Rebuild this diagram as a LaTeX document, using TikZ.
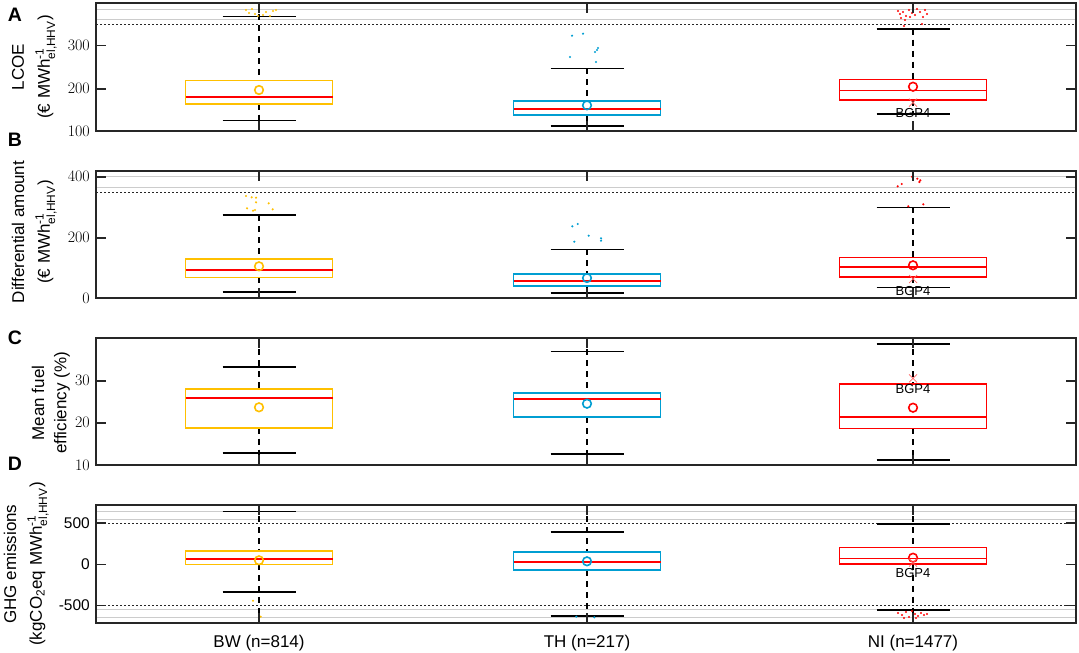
\documentclass[tikz,border=0pt]{standalone}
\usepackage{amsmath}
\usepackage{fontspec}
\newfontfamily\arial{Liberation Sans}
\definecolor{bwcol}{RGB}{255,192,0}
\definecolor{thcol}{RGB}{0,158,210}
\definecolor{nicol}{RGB}{255,0,0}
\definecolor{framecol}{RGB}{38,38,38}

% one box: x, colour, whisker top, cap top, box top, median, box bottom, cap bottom, whisker bottom
\newcommand{\bplot}[9]{%
  \draw[whisk] (#1,#3) -- (#1,#5);
  \draw[whisk] (#1,#7) -- (#1,#9);
  \draw[capline] (#1-36.5,#4) -- (#1+36.5,#4);
  \draw[capline] (#1-36.5,#8) -- (#1+36.5,#8);
  \draw[boxline=#2] (#1-73.5,#5) rectangle (#1+73.5,#7);
  \draw[medline] (#1-73.5,#6) -- (#1+73.5,#6);
}
% axes frame with the x ticks: top, bottom
\newcommand{\pframe}[2]{%
  \draw[frame] (96,#1) rectangle (1076,#2);
  \foreach \x in {259,587,913} {
    \draw[frame] (\x,#1) -- ++(0,10);
    \draw[frame] (\x,#2) -- ++(0,-10);
  }
}

\begin{document}
\begin{tikzpicture}[x=1pt,y=-1pt,
    frame/.style={draw=framecol,line width=1.6pt},
    whisk/.style={black,line width=1.6pt,dash pattern=on 6pt off 5pt},
    capline/.style={black,line width=1.6pt},
    boxline/.style={draw=#1,fill=white,line width=1.6pt},
    medline/.style={nicol,line width=1.6pt},
    meanmark/.style={draw=#1,line width=1.6pt},
    gridline/.style={black!20,line width=1pt},
    limline/.style={black!85,line width=0.7pt,dash pattern=on 2pt off 2pt},
    ticklab/.style={font=\fontsize{16}{16}\selectfont,anchor=east,inner sep=0pt},
    sticklab/.style={font=\arial\fontsize{15.5}{15.5}\selectfont,anchor=east,inner sep=0pt},
    ytitle/.style={font=\arial\fontsize{17}{17}\selectfont,rotate=90,inner sep=0pt},
    xtitle/.style={font=\arial\fontsize{17}{17}\selectfont,inner sep=0pt},
    letter/.style={font=\arial\bfseries\fontsize{19.5}{19.5}\selectfont,inner sep=0pt},
    bgp/.style={font=\arial\fontsize{13}{13}\selectfont,inner sep=0pt},
    xmark/.style={nicol!60,line width=0.7pt}]
  \useasboundingbox (0,0) rectangle (1079,653);

  % reference lines
  \foreach \y in {9,19,176.7,187.3,511,519,609.3,617}
    \draw[gridline] (96,\y) -- (1076,\y);
  \foreach \y in {24,192.3,523,605.3}
    \draw[limline] (96,\y) -- (1076,\y);

  % A: LCOE
  \bplot{259}{bwcol}{3}{16.3}{80.3}{96.7}{103.7}{120.3}{131}
  \bplot{587}{thcol}{68.3}{68.3}{100.7}{108.7}{114.7}{126}{126}
  \bplot{913}{nicol}{28.7}{28.7}{79.3}{90.3}{99.7}{113.7}{113.7}
  \draw[meanmark=bwcol] (259,90) circle (4.3);
  \draw[meanmark=thcol] (587,105.3) circle (4.3);
  \draw[meanmark=nicol] (913,86.7) circle (4.3);
  \foreach \x/\y in {246/10,249/13,252/9,255/14,258/16,263/15,266/12,270/16,273/11,276/10}
    \fill[bwcol] (\x,\y) circle (1.2);
  \foreach \x/\y in {572/35.7,583/33.7,570/57,596/62,598/48,595/52,597/50}
    \fill[thcol] (\x,\y) circle (1.2);
  \foreach \x/\y in {898/11,900/14,903/12,906/16,909/10,912/13,915/15,917/9,920/12,923/17,925/10,927/14,901/18,905/20,910/17,904/26,922/24}
    \fill[nicol] (\x,\y) circle (1.2);
  \coordinate (xa) at (913,102.7);
  \draw[xmark] (xa) +(-4,-4) -- +(4,4) (xa) +(-4,4) -- +(4,-4);
  \node[bgp] (bgpa) at (913,112.7) {BGP4};
  \pframe{3}{131}
  \foreach \y/\lab [count=\i] in {45.3/300,88.7/200,131/100} {
    \draw[frame] (96,\y) -- ++(10,0);
    \draw[frame] (1076,\y) -- ++(-10,0);
    \node[ticklab] (ta\i) at (90,\y) {\lab};
  }
  \node[ytitle] (ya1) at (18,67) {LCOE};
  \node[ytitle] (ya2) at (46,67) {(€ MWh$^{\text{-1}}_{\text{el,HHV}}$)};
  \node[letter] (la) at (15,15) {A};

  % B: differential amount
  \bplot{259}{bwcol}{215}{215}{259}{269.7}{277.3}{291.7}{291.7}
  \bplot{587}{thcol}{249.3}{249.3}{273.7}{281}{286}{293}{293}
  \bplot{913}{nicol}{207.3}{207.3}{257.3}{266.7}{277}{287.3}{287.3}
  \draw[meanmark=bwcol] (259,266.3) circle (4.3);
  \draw[meanmark=thcol] (587,278) circle (4.3);
  \draw[meanmark=nicol] (913,265.3) circle (4.3);
  \foreach \x/\y in {246/196,251.7/197.3,256/197.7,247/208.3,255/210,256/202.3,268.7/203.3,272.7/209.3,253/210.7}
    \fill[bwcol] (\x,\y) circle (1.2);
  \foreach \x/\y in {572.3/226.3,577.7/224,574.3/241.7,588.7/235.7,601/238.3,601/240.7}
    \fill[thcol] (\x,\y) circle (1.2);
  \foreach \x/\y in {912/176.7,917.3/178.7,919.3/182,920.3/180.3,901.7/184,897.7/186.3,908.3/206.3,923.3/204.3}
    \fill[nicol] (\x,\y) circle (1.2);
  \coordinate (xb) at (913,279);
  \draw[xmark] (xb) +(-4,-4) -- +(4,4) (xb) +(-4,4) -- +(4,-4);
  \node[bgp] (bgpb) at (913,291) {BGP4};
  \pframe{171}{298}
  \foreach \y/\lab [count=\i] in {176.7/400,237.7/200,298.3/0} {
    \draw[frame] (96,\y) -- ++(10,0);
    \draw[frame] (1076,\y) -- ++(-10,0);
    \node[ticklab] (tb\i) at (90,\y) {\lab};
  }
  \node[ytitle] (yb1) at (18,232) {Differential amount};
  \node[ytitle] (yb2) at (46,232) {(€ MWh$^{\text{-1}}_{\text{el,HHV}}$)};
  \node[letter] (lb) at (15,140) {B};

  % C: mean fuel efficiency
  \bplot{259}{bwcol}{338}{366.7}{389}{398}{427.7}{452.7}{465}
  \bplot{587}{thcol}{338}{351.3}{392.7}{398.7}{417}{453.7}{465}
  \bplot{913}{nicol}{338}{344}{384}{416.7}{428.3}{460}{465}
  \draw[meanmark=bwcol] (259,407.3) circle (4.3);
  \draw[meanmark=thcol] (587,403.7) circle (4.3);
  \draw[meanmark=nicol] (913,407.7) circle (4.3);
  \coordinate (xc) at (913,378.3);
  \draw[xmark] (xc) +(-4,-4) -- +(4,4) (xc) +(-4,4) -- +(4,-4);
  \node[bgp] (bgpc) at (913,388.7) {BGP4};
  \pframe{338}{465}
  \foreach \y/\lab [count=\i] in {380.7/30,422.7/20,465.3/10} {
    \draw[frame] (96,\y) -- ++(10,0);
    \draw[frame] (1076,\y) -- ++(-10,0);
    \node[ticklab] (tc\i) at (90,\y) {\lab};
  }
  \node[ytitle] (yc1) at (38,403) {Mean fuel};
  \node[ytitle] (yc2) at (62,403) {efficiency (\%)};
  \node[letter] (lc) at (15,338) {C};

  % D: GHG emissions
  \bplot{259}{bwcol}{505}{511.3}{550.7}{559}{564.3}{592}{623}
  \bplot{587}{thcol}{505}{532}{552}{561.7}{570}{615.7}{623}
  \bplot{913}{nicol}{505}{523.7}{547.3}{558.3}{563.7}{610}{623}
  \draw[meanmark=bwcol] (259,560.3) circle (4.3);
  \draw[meanmark=thcol] (587,561.3) circle (4.3);
  \draw[meanmark=nicol] (913,557.7) circle (4.3);
  \foreach \x/\y in {253/600.7,260.7/616.7}
    \fill[bwcol] (\x,\y) circle (1.2);
  \foreach \x/\y in {576.3/616.7,594.3/617.3}
    \fill[thcol] (\x,\y) circle (1.2);
  \foreach \x/\y in {898/613,902/615,906/612,909/617,912/611,915/614,918/616,921/613,924/615,927/614,904/618,916/618}
    \fill[nicol] (\x,\y) circle (1.2);
  \coordinate (xd) at (913,562.7);
  \draw[xmark] (xd) +(-4,-4) -- +(4,4) (xd) +(-4,4) -- +(4,-4);
  \node[bgp] (bgpd) at (913,572.7) {BGP4};
  \pframe{505}{623}
  \foreach \y/\lab [count=\i] in {523/500,564.3/0,605.3/-500} {
    \draw[frame] (96,\y) -- ++(10,0);
    \draw[frame] (1076,\y) -- ++(-10,0);
    \node[sticklab] (td\i) at (90,\y) {\lab};
  }
  \node[ytitle] (yd1) at (10,564) {GHG emissions};
  \node[ytitle] (yd2) at (38,564) {(kgCO$_{\text{2}}$eq MWh$^{\text{-1}}_{\text{el,HHV}}$)};
  \node[letter] (ld) at (15,463.5) {D};

  % categories
  \node[xtitle] (bw) at (259,643) {BW (n=814)};
  \node[xtitle] (th) at (587,643) {TH (n=217)};
  \node[xtitle] (ni) at (913,643) {NI (n=1477)};
\end{tikzpicture}
\end{document}
